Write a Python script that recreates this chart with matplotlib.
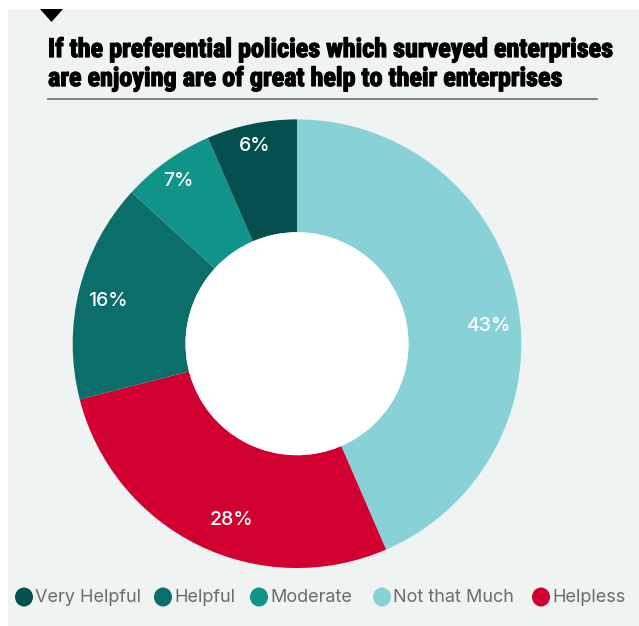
import matplotlib
matplotlib.use("Agg")
import numpy as np
import matplotlib.pyplot as plt
import matplotlib.patheffects as pe
from matplotlib.patches import Rectangle, Polygon, Ellipse, Circle
from matplotlib.lines import Line2D

title_lines = ["If the preferential policies which surveyed enterprises",
               "are enjoying are of great help to their enterprises"]
pie_labels = ["Not that Much", "Helpless", "Helpful", "Moderate", "Very Helpful"]
# wedge shares as drawn in the picture (angles measured), and the printed labels
pie_values = [43.5, 27.5, 15.8, 6.7, 6.5]
pie_pct_text = ["43%", "28%", "16%", "7%", "6%"]
pie_colors = ["#88d2d7", "#d20030", "#0b6e6b", "#10948a", "#064f4f"]
legend_order = ["Very Helpful", "Helpful", "Moderate", "Not that Much", "Helpless"]

# label placement style (angle nudge in degrees, radius fraction)
label_nudge = [-6.3, 5.6, 1.2, 0.6, 0.5]
label_radius = [0.862, 0.84, 0.865, 0.90, 0.90]

W, H = 639, 626
fig = plt.figure(figsize=(W / 100, H / 100), dpi=100)
fig.patch.set_facecolor("white")

def fx(px):
    return px / W

def fy(py):
    return 1 - py / H

# background panel
fig.patches.append(Rectangle((fx(8), 0), 1 - fx(8), fy(10), transform=fig.transFigure,
                             facecolor="#eff3f2", edgecolor="none", zorder=-10))
# triangle marker
fig.patches.append(Polygon([(fx(40), fy(9)), (fx(63), fy(9)), (fx(51.5), fy(22))],
                           closed=True, transform=fig.transFigure,
                           facecolor="black", edgecolor="none", zorder=1))

title_kw = dict(fontsize=20, fontweight="bold",
                family=["Roboto Condensed", "Liberation Sans Narrow", "DejaVu Sans"],
                stretch="condensed", color="black", ha="left", va="baseline",
                path_effects=[pe.withStroke(linewidth=0.9, foreground="black")])
t1 = fig.text(fx(48), fy(57), title_lines[0], **title_kw)
t2 = fig.text(fx(48), fy(86), title_lines[1], **title_kw)
renderer = fig.canvas.get_renderer()
w1 = t1.get_window_extent(renderer).width
fs = 20 * 562.0 / w1
t1.set_fontsize(fs)
t2.set_fontsize(fs)
fig.add_artist(Line2D([fx(48), fx(597)], [fy(99), fy(99)], transform=fig.transFigure,
                      color="#777777", linewidth=1.3))

cx, cy, R = 297, 343.7, 224.3
ax = fig.add_axes([fx(cx - R), fy(cy + R), 2 * R / W, 2 * R / H])
ax.set_facecolor("none")
wedges, _ = ax.pie(
    pie_values, colors=pie_colors, startangle=90, counterclock=False,
    radius=1, wedgeprops=dict(width=0.503, edgecolor="none", linewidth=0))
ax.add_patch(Circle((0, 0), 0.497, facecolor="white", edgecolor="none", zorder=5))
for w, txt, nd, rf in zip(wedges, pie_pct_text, label_nudge, label_radius):
    mid = np.deg2rad((w.theta1 + w.theta2) / 2 + nd)
    ax.text(rf * np.cos(mid), rf * np.sin(mid), txt, color="white", fontsize=14,
            family=["Inter", "DejaVu Sans"], fontweight="medium",
            ha="center", va="center", zorder=6)
ax.set_xlim(-1, 1)
ax.set_ylim(-1, 1)
ax.set_aspect("equal")
ax.axis("off")

# legend (manual placement to match reference spacing)
marker_x = [24, 163, 259, 382, 541]
leg_y = 597
for lab, mx in zip(legend_order, marker_x):
    c = pie_colors[pie_labels.index(lab)]
    fig.patches.append(Ellipse((fx(mx), fy(leg_y)), 18 / W, 19 / H, transform=fig.transFigure,
                               facecolor=c, edgecolor="none", zorder=2))
    fig.text(fx(mx + 11), fy(leg_y), lab, fontsize=13, family=["Inter", "DejaVu Sans"],
             color="#6b6b6b", ha="left", va="center")

fig.savefig("out.png", dpi=100, facecolor=fig.get_facecolor())
